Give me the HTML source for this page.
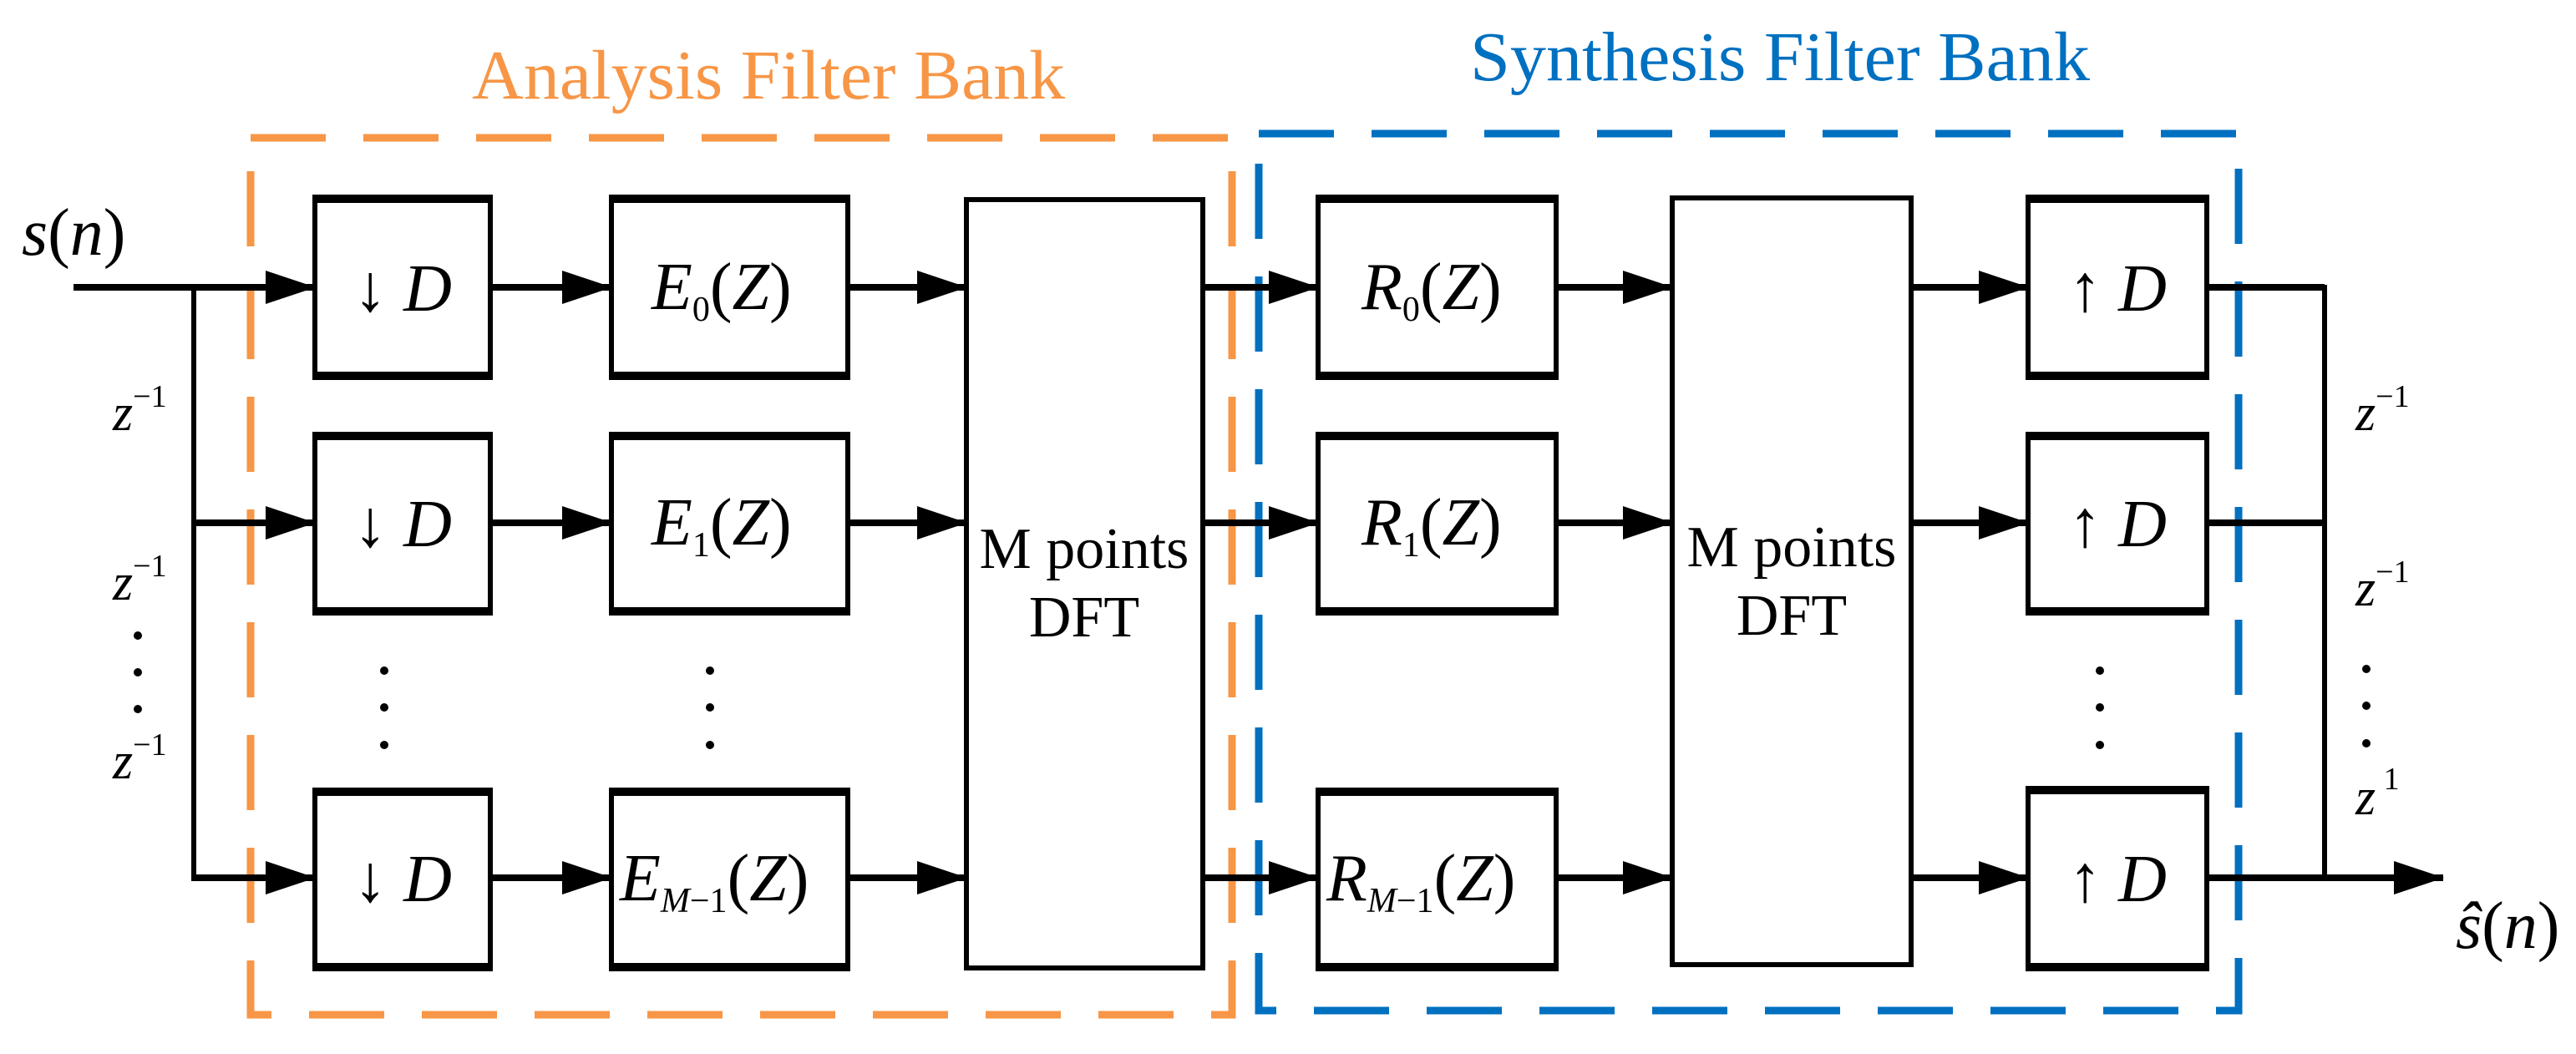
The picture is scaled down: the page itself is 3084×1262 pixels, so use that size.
<!DOCTYPE html>
<html><head><style>html,body{margin:0;padding:0;background:#fff}svg{display:block}svg text{font-family:"Liberation Serif","DejaVu Serif",serif}</style></head>
<body>
<svg width="3084" height="1262" viewBox="0 0 3084 1262" xmlns="http://www.w3.org/2000/svg">
<defs>
<marker id="ah" markerWidth="60" markerHeight="40" refX="59" refY="20" orient="auto" markerUnits="userSpaceOnUse">
<path d="M0,0 L60,20 L0,40 Z" fill="#000"/>
</marker>
</defs>
<rect x="300" y="165" width="1175" height="1050" fill="none" stroke="#F79646" stroke-width="9" stroke-dasharray="90,45"/>
<rect x="1507" y="160" width="1173" height="1050" fill="none" stroke="#0070C0" stroke-width="9" stroke-dasharray="90,45"/>
<text x="920" y="118" font-size="84" fill="#F79646" text-anchor="middle" textLength="710" lengthAdjust="spacingAndGlyphs">Analysis Filter Bank</text>
<text x="2131" y="96" font-size="84" fill="#0070C0" text-anchor="middle" textLength="742" lengthAdjust="spacingAndGlyphs">Synthesis Filter Bank</text>

<g fill="#fff" stroke="#000" stroke-width="6">
<rect x="377" y="237" width="210" height="214"/>
<rect x="377" y="521" width="210" height="212"/>
<rect x="377" y="947" width="210" height="212"/>
<rect x="732" y="237" width="283" height="214"/>
<rect x="732" y="521" width="283" height="212"/>
<rect x="732" y="947" width="283" height="212"/>
<rect x="1157" y="239" width="283" height="920"/>
<rect x="1578" y="237" width="285" height="214"/>
<rect x="1578" y="521" width="285" height="212"/>
<rect x="1578" y="947" width="285" height="212"/>
<rect x="2002" y="237" width="286" height="918"/>
<rect x="2428" y="237" width="214" height="214"/>
<rect x="2428" y="521" width="214" height="212"/>
<rect x="2428" y="945" width="214" height="214"/>
</g>
<g stroke="#000" stroke-width="10">
<line x1="374" y1="238" x2="590" y2="238"/><line x1="374" y1="450" x2="590" y2="450"/>
<line x1="374" y1="522" x2="590" y2="522"/><line x1="374" y1="732" x2="590" y2="732"/>
<line x1="374" y1="948" x2="590" y2="948"/><line x1="374" y1="1158" x2="590" y2="1158"/>
<line x1="729" y1="238" x2="1018" y2="238"/><line x1="729" y1="450" x2="1018" y2="450"/>
<line x1="729" y1="522" x2="1018" y2="522"/><line x1="729" y1="732" x2="1018" y2="732"/>
<line x1="729" y1="948" x2="1018" y2="948"/><line x1="729" y1="1158" x2="1018" y2="1158"/>
<line x1="1575" y1="238" x2="1866" y2="238"/><line x1="1575" y1="450" x2="1866" y2="450"/>
<line x1="1575" y1="522" x2="1866" y2="522"/><line x1="1575" y1="732" x2="1866" y2="732"/>
<line x1="1575" y1="948" x2="1866" y2="948"/><line x1="1575" y1="1158" x2="1866" y2="1158"/>
<line x1="2425" y1="238" x2="2645" y2="238"/><line x1="2425" y1="450" x2="2645" y2="450"/>
<line x1="2425" y1="522" x2="2645" y2="522"/><line x1="2425" y1="732" x2="2645" y2="732"/>
<line x1="2425" y1="946" x2="2645" y2="946"/><line x1="2425" y1="1158" x2="2645" y2="1158"/>
</g>

<g stroke="#000" stroke-width="8" marker-end="url(#ah)">
<line x1="88" y1="344" x2="377" y2="344"/>
<line x1="232" y1="626" x2="377" y2="626"/>
<line x1="232" y1="1051" x2="377" y2="1051"/>
<line x1="587" y1="344" x2="732" y2="344"/><line x1="587" y1="626" x2="732" y2="626"/><line x1="587" y1="1051" x2="732" y2="1051"/>
<line x1="1015" y1="344" x2="1157" y2="344"/><line x1="1015" y1="626" x2="1157" y2="626"/><line x1="1015" y1="1051" x2="1157" y2="1051"/>
<line x1="1440" y1="344" x2="1578" y2="344"/><line x1="1440" y1="626" x2="1578" y2="626"/><line x1="1440" y1="1051" x2="1578" y2="1051"/>
<line x1="1863" y1="344" x2="2002" y2="344"/><line x1="1863" y1="626" x2="2002" y2="626"/><line x1="1863" y1="1051" x2="2002" y2="1051"/>
<line x1="2288" y1="344" x2="2428" y2="344"/><line x1="2288" y1="626" x2="2428" y2="626"/><line x1="2288" y1="1051" x2="2428" y2="1051"/>
<line x1="2642" y1="1051" x2="2925" y2="1051"/>
</g>
<g stroke="#000" stroke-width="6" fill="none">
<line x1="232" y1="344" x2="232" y2="1055"/>
<polyline points="2642,344 2783,344 2783,1051"/>
<line x1="2642" y1="626" x2="2783" y2="626" stroke-width="8"/>
<line x1="2642" y1="344" x2="2783" y2="344" stroke-width="8"/>
</g>

<g fill="#000">
<circle cx="460" cy="803" r="5"/><circle cx="460" cy="847" r="5"/><circle cx="460" cy="892" r="5"/>
<circle cx="850" cy="803" r="5"/><circle cx="850" cy="847" r="5"/><circle cx="850" cy="892" r="5"/>
<circle cx="2514" cy="803" r="5"/><circle cx="2514" cy="847" r="5"/><circle cx="2514" cy="892" r="5"/>
<circle cx="165" cy="761" r="5"/><circle cx="165" cy="805" r="5"/><circle cx="165" cy="849" r="5"/>
<circle cx="2833" cy="801" r="5"/><circle cx="2833" cy="845" r="5"/><circle cx="2833" cy="890" r="5"/>
</g>

<g font-size="80" fill="#000">
<text x="26" y="305"><tspan font-style="italic">s</tspan>(<tspan font-style="italic">n</tspan>)</text>
<text x="2940" y="1135"><tspan font-style="italic">ŝ</tspan>(<tspan font-style="italic">n</tspan>)</text>
<text x="482" y="372" text-anchor="middle">↓ <tspan font-style="italic">D</tspan></text>
<text x="482" y="654" text-anchor="middle">↓ <tspan font-style="italic">D</tspan></text>
<text x="482" y="1079" text-anchor="middle">↓ <tspan font-style="italic">D</tspan></text>
<text x="2535" y="372" text-anchor="middle">↑ <tspan font-style="italic">D</tspan></text>
<text x="2535" y="654" text-anchor="middle">↑ <tspan font-style="italic">D</tspan></text>
<text x="2535" y="1079" text-anchor="middle">↑ <tspan font-style="italic">D</tspan></text>
<text x="780" y="370"><tspan font-style="italic">E</tspan><tspan font-size="42" dy="14">0</tspan><tspan dy="-14">(</tspan><tspan font-style="italic">Z</tspan>)</text>
<text x="780" y="652"><tspan font-style="italic">E</tspan><tspan font-size="42" dy="14">1</tspan><tspan dy="-14">(</tspan><tspan font-style="italic">Z</tspan>)</text>
<text x="742" y="1078"><tspan font-style="italic">E</tspan><tspan font-size="42" dy="14" font-style="italic">M</tspan><tspan font-size="42">−1</tspan><tspan dy="-14">(</tspan><tspan font-style="italic">Z</tspan>)</text>
<text x="1630" y="370"><tspan font-style="italic">R</tspan><tspan font-size="42" dy="14">0</tspan><tspan dy="-14">(</tspan><tspan font-style="italic">Z</tspan>)</text>
<text x="1630" y="652"><tspan font-style="italic">R</tspan><tspan font-size="42" dy="14">1</tspan><tspan dy="-14">(</tspan><tspan font-style="italic">Z</tspan>)</text>
<text x="1588" y="1078"><tspan font-style="italic">R</tspan><tspan font-size="42" dy="14" font-style="italic">M</tspan><tspan font-size="42">−1</tspan><tspan dy="-14">(</tspan><tspan font-style="italic">Z</tspan>)</text>
<text x="1298" y="680" text-anchor="middle" font-size="70">M points</text>
<text x="1298" y="762" text-anchor="middle" font-size="70">DFT</text>
<text x="2145" y="678" text-anchor="middle" font-size="70">M points</text>
<text x="2145" y="760" text-anchor="middle" font-size="70">DFT</text>
</g>
<g font-size="62" fill="#000">
<text x="135" y="515"><tspan font-style="italic">z</tspan><tspan font-size="38" dy="-28">−1</tspan></text>
<text x="135" y="718"><tspan font-style="italic">z</tspan><tspan font-size="38" dy="-28">−1</tspan></text>
<text x="135" y="932"><tspan font-style="italic">z</tspan><tspan font-size="38" dy="-28">−1</tspan></text>
<text x="2820" y="515"><tspan font-style="italic">z</tspan><tspan font-size="38" dy="-28">−1</tspan></text>
<text x="2820" y="725"><tspan font-style="italic">z</tspan><tspan font-size="38" dy="-28">−1</tspan></text>
<text x="2820" y="975"><tspan font-style="italic">z</tspan><tspan font-size="38" dy="-30"> 1</tspan></text>
</g>
</svg>
</body></html>
